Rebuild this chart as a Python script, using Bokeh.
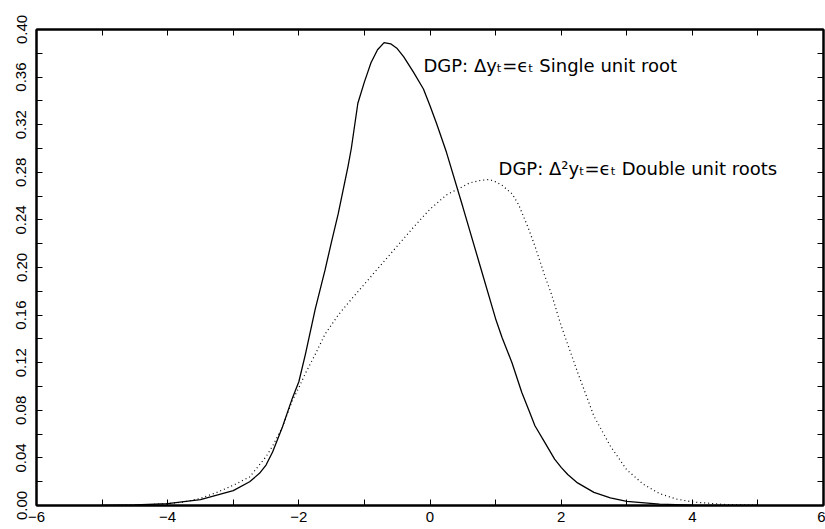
from bokeh.plotting import figure
from bokeh.models import FixedTicker, LinearAxis, Label, Range1d
from bokeh.embed import file_html
from bokeh.resources import INLINE

# Single unit root density (solid)
x_single = [-5.0, -4.5, -4.0, -3.5, -3.0, -2.75, -2.6, -2.5, -2.4, -2.25, -2.1, -2.0, -1.9, -1.75, -1.6, -1.5,
            -1.4, -1.25, -1.2, -1.1, -1.0, -0.95, -0.9, -0.8, -0.7, -0.6, -0.5, -0.4, -0.25, -0.1, 0.0,
            0.1, 0.25, 0.5, 0.75, 1.0, 1.1, 1.25, 1.4, 1.5, 1.6, 1.75, 1.9, 2.0, 2.1, 2.25, 2.5, 2.75,
            3.0, 3.5, 4.0, 4.5, 5.0]
y_single = [0.0, 0.0004, 0.0015, 0.005, 0.0125, 0.020, 0.027, 0.034, 0.045, 0.066, 0.090, 0.104, 0.127, 0.165, 0.198, 0.222,
            0.245, 0.285, 0.300, 0.338, 0.356, 0.364, 0.372, 0.383, 0.389, 0.388, 0.384, 0.377, 0.364, 0.350, 0.336,
            0.321, 0.297, 0.251, 0.204, 0.157, 0.141, 0.120, 0.095, 0.081, 0.067, 0.053, 0.039, 0.032, 0.026, 0.019, 0.011, 0.0065,
            0.0034, 0.0012, 0.0003, 0.0001, 0.0]

# Double unit roots density (dotted)
x_double = [-5.0, -4.5, -4.25, -4.0, -3.75, -3.5, -3.25, -3.0, -2.75, -2.5, -2.4, -2.25, -2.1, -2.0, -1.9, -1.75,
            -1.6, -1.5, -1.4, -1.25, -1.0, -0.75, -0.5, -0.25, 0.0, 0.25, 0.5, 0.6, 0.75, 0.9, 1.0, 1.1,
            1.25, 1.35, 1.5, 1.6, 1.75, 1.85, 2.0, 2.25, 2.5, 2.75, 3.0, 3.25, 3.5, 3.75, 4.0, 4.5, 5.0]
y_double = [0.0001, 0.0003, 0.0008, 0.0015, 0.003, 0.006, 0.011, 0.017, 0.024, 0.041, 0.050, 0.066, 0.088, 0.099, 0.111, 0.127,
            0.144, 0.152, 0.160, 0.170, 0.186, 0.202, 0.218, 0.234, 0.249, 0.261, 0.268, 0.271, 0.273, 0.274, 0.272, 0.269,
            0.262, 0.253, 0.233, 0.218, 0.193, 0.178, 0.151, 0.112, 0.075, 0.050, 0.030, 0.018, 0.010, 0.0055, 0.003, 0.0008, 0.0002]

x_ticks = [-6, -4, -2, 0, 2, 4, 6]
x_minor = [-5, -3, -1, 1, 3, 5]
y_ticks = [0.00, 0.04, 0.08, 0.12, 0.16, 0.20, 0.24, 0.28, 0.32, 0.36, 0.40]
y_minor = [0.02, 0.06, 0.10, 0.14, 0.18, 0.22, 0.26, 0.30, 0.34, 0.38]

label_single = "DGP: Δyₜ=ϵₜ Single unit root"
label_double = "DGP: Δ²yₜ=ϵₜ Double unit roots"

TICK_FONT = "Liberation Sans"
TEXT_FONT = "DejaVu Sans"

p = figure(width=825, height=529, output_backend="svg", toolbar_location=None,
           x_range=Range1d(-6, 6), y_range=Range1d(0, 0.40),
           min_border_left=36, min_border_top=29, min_border_right=2, min_border_bottom=24,
           x_axis_type=None, y_axis_type=None)
p.grid.visible = False
p.outline_line_color = "black"
p.outline_line_width = 2
p.background_fill_color = "white"

xt = FixedTicker(ticks=x_ticks, minor_ticks=x_minor)
yt = FixedTicker(ticks=y_ticks, minor_ticks=y_minor)


def style(ax, show_labels):
    ax.axis_line_color = "black"
    ax.axis_line_width = 2
    ax.major_tick_in = 6
    ax.major_tick_out = 0
    ax.minor_tick_in = 6
    ax.minor_tick_out = 0
    ax.major_tick_line_color = "black"
    ax.minor_tick_line_color = "black"
    ax.major_tick_line_width = 1
    ax.minor_tick_line_width = 1
    if show_labels:
        ax.major_label_text_font = TICK_FONT
        ax.major_label_text_font_size = "15px"
        ax.major_label_text_color = "black"
    else:
        ax.major_label_standoff = 0
        ax.major_label_text_font_size = "1px"


xb = LinearAxis(ticker=xt)
style(xb, True)
xb.major_label_standoff = 6
xb.major_label_overrides = {t: (("−" + str(abs(t))) if t < 0 else str(t)) for t in x_ticks}
p.add_layout(xb, "below")

yl = LinearAxis(ticker=yt)
style(yl, True)
yl.major_label_orientation = "vertical"
yl.major_label_standoff = 10
yl.major_label_overrides = {t: "%.2f" % t for t in y_ticks}
p.add_layout(yl, "left")

xa = LinearAxis(ticker=xt)
style(xa, False)
xa.major_label_overrides = {t: "" for t in x_ticks}
p.add_layout(xa, "above")

yr = LinearAxis(ticker=yt)
style(yr, False)
yr.major_label_overrides = {t: "" for t in y_ticks}
p.add_layout(yr, "right")

p.line(x_single, y_single, line_color="black", line_width=1.3)
p.line(x_double, y_double, line_color="black", line_width=1.2, line_dash="1 3")

p.add_layout(Label(x=-0.1, y=0.370, text=label_single, text_font=TEXT_FONT, text_font_size="18px",
                   text_baseline="middle", text_color="black"))
p.add_layout(Label(x=1.045, y=0.283, text=label_double, text_font=TEXT_FONT, text_font_size="18px",
                   text_baseline="middle", text_color="black"))

open("out.html", "w").write(file_html(p, INLINE))
